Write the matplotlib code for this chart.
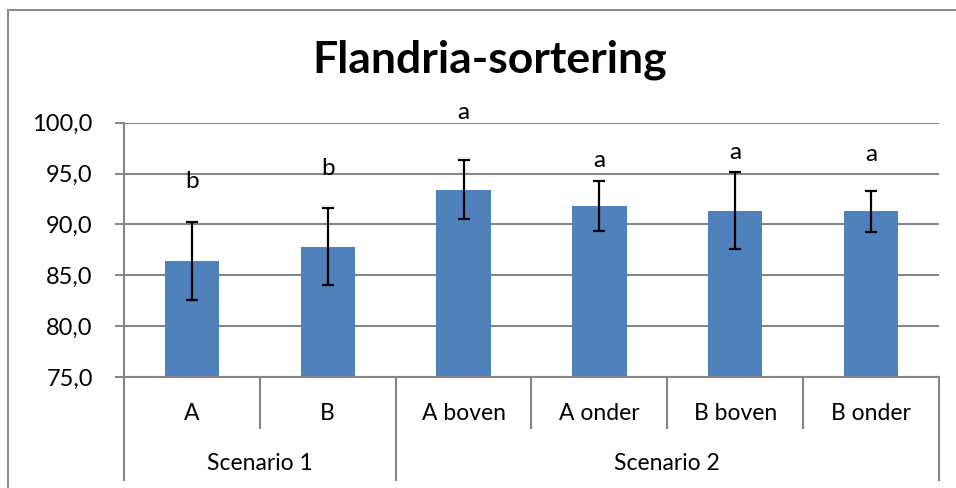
import matplotlib
matplotlib.use("Agg")
import matplotlib.pyplot as plt
from matplotlib.lines import Line2D
from matplotlib.ticker import FuncFormatter
import matplotlib.transforms as mtransforms

# ---- data ----
categories = ["A", "B", "A boven", "A onder", "B boven", "B onder"]
groups = ["Scenario 1", "Scenario 2"]
group_sizes = [2, 4]
values = [86.4, 87.8, 93.4, 91.8, 91.35, 91.3]
errors = [3.83, 3.8, 2.9, 2.45, 3.77, 2.0]
sig_letters = ["b", "b", "a", "a", "a", "a"]
letter_y = [94.2, 95.5, 101.0, 96.3, 97.1, 96.9]
yticks = [75, 80, 85, 90, 95, 100]
title = "Flandria-sortering"

plt.rcParams['font.family'] = ['Lato', 'DejaVu Sans']

W, H = 956, 488
fig = plt.figure(figsize=(W / 100, H / 100), dpi=100)
fig.patch.set_facecolor("white")

left, right, top, bottom = 124, 939, 122.7, 377
ax = fig.add_axes([left / W, (H - bottom) / H, (right - left) / W, (bottom - top) / H])

grid_c = "#868686"
x = list(range(len(categories)))
ax.bar(x, values, width=0.4, color="#4F81BD", zorder=3)
ax.errorbar(x, values, yerr=errors, fmt="none", ecolor="black", elinewidth=1.6,
            capsize=4.5, capthick=1.6, zorder=4)

for xi, lt, ly in zip(x, sig_letters, letter_y):
    ax.text(xi, ly, lt, ha="center", va="center", fontsize=17.5, color="black", clip_on=False)

ax.set_ylim(75, 100)
ax.set_xlim(-0.5, len(categories) - 0.5)
ax.set_yticks(yticks)
ax.yaxis.set_major_formatter(FuncFormatter(lambda v, p: f"{v:.1f}".replace(".", ",")))
ax.tick_params(axis="y", length=6.5, width=1.4, color=grid_c, pad=16, labelsize=17)
ax.set_xticks([])
ax.grid(axis="y", color=grid_c, linewidth=1.5, zorder=0)
for s in ["top", "right"]:
    ax.spines[s].set_visible(False)
for s in ["left", "bottom"]:
    ax.spines[s].set_color(grid_c)
    ax.spines[s].set_linewidth(1.5)
    ax.spines[s].set_zorder(5)

# category axis (two-level)
trans = mtransforms.blended_transform_factory(ax.transData, ax.transAxes)
inner_depth = -(428 - bottom) / (bottom - top)
outer_depth = -(480 - bottom) / (bottom - top)
cat_y = -(413 - bottom) / (bottom - top)
grp_y = -(463 - bottom) / (bottom - top)

for i, c in enumerate(categories):
    ax.text(i, cat_y, c, transform=trans, ha="center", va="center", fontsize=16.5, color="black")

start = 0
boundaries_outer = [-0.5]
for g, n in zip(groups, group_sizes):
    ax.text(start + (n - 1) / 2, grp_y, g, transform=trans, ha="center", va="center",
            fontsize=16.5, color="black")
    for k in range(1, n):
        bx = start + k - 0.5
        ax.add_line(Line2D([bx, bx], [0, inner_depth], transform=trans, color=grid_c,
                           linewidth=1.5, clip_on=False))
    start += n
    boundaries_outer.append(start - 0.5)
for bx in boundaries_outer:
    ax.add_line(Line2D([bx, bx], [0, outer_depth], transform=trans, color=grid_c,
                       linewidth=1.5, clip_on=False))

fig.text(490 / W, 1 - 60 / H, title, ha="center", va="center", fontsize=32,
         fontweight="bold", color="black")

# outer chart frame (top and left visible)
fig.add_artist(Line2D([8 / W, 1], [1 - 10 / H, 1 - 10 / H], transform=fig.transFigure,
                      color="#8c8c8c", linewidth=1.5))
fig.add_artist(Line2D([8 / W, 8 / W], [0, 1 - 10 / H], transform=fig.transFigure,
                      color="#8c8c8c", linewidth=1.5))

fig.savefig("out.png", dpi=100, facecolor="white")
